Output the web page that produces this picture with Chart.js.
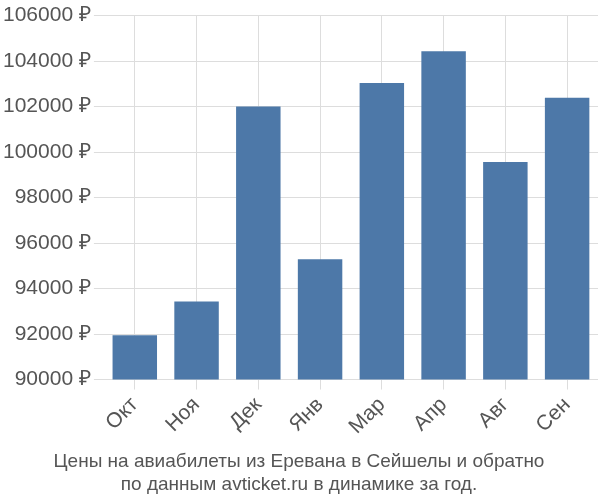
<!DOCTYPE html>
<html><head><meta charset="utf-8">
<script src="https://cdn.jsdelivr.net/npm/chart.js@4"></script>
<style>body{margin:0;background:#fff}#w{width:600px;height:500px}</style>
</head><body><div id="w"><canvas id="c"></canvas></div>
<script>
const categories=["Окт","Ноя","Дек","Янв","Мар","Апр","Авг","Сен"];
const prices=[91950,93430,102000,95290,103040,104430,99560,102390];
const titleLines=["Цены на авиабилеты из Еревана в Сейшелы и обратно","по данным avticket.ru в динамике за год."];
new Chart(document.getElementById('c'),{
type:'bar',
data:{labels:categories,datasets:[{data:prices,backgroundColor:'#4d78a8',barPercentage:0.72,categoryPercentage:1}]},
options:{responsive:true,maintainAspectRatio:false,animation:false,
layout:{padding:{right:2,top:4}},
plugins:{legend:{display:false},tooltip:{enabled:false},
title:{display:true,position:'bottom',text:titleLines,color:'#555',font:{size:19,weight:'normal',family:'Liberation Sans'},padding:{top:8,bottom:4}}},
scales:{
y:{min:90000,max:106000,ticks:{stepSize:2000,color:'#555',font:{size:21,family:'Liberation Sans'},callback:v=>v+' ₽'},grid:{color:'#ddd',tickLength:10},border:{display:false}},
x:{ticks:{color:'#555',font:{size:21,family:'Liberation Sans'},maxRotation:45,minRotation:45},grid:{color:'#ddd',offset:false,tickLength:10},border:{display:false}}
}}});
</script></body></html>
